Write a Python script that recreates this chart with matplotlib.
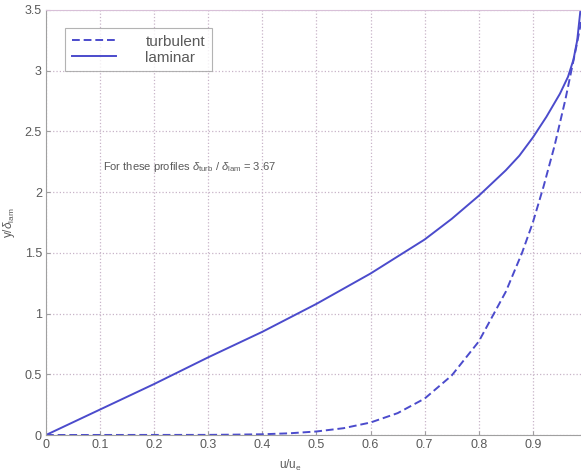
import numpy as np
import matplotlib.pyplot as plt

plt.rcParams['font.family'] = ['Liberation Sans', 'DejaVu Sans']
plt.rcParams['mathtext.fontset'] = 'custom'
plt.rcParams['mathtext.rm'] = 'Liberation Sans'
plt.rcParams['mathtext.it'] = 'Liberation Sans:italic'

# values
u_lam = [0.0, 0.1, 0.2, 0.3, 0.4, 0.5, 0.6, 0.7, 0.75, 0.8, 0.85, 0.875,
         0.9, 0.925, 0.95, 0.965, 0.975, 0.982, 0.988]
y_lam = [0.0, 0.21, 0.42, 0.64, 0.85, 1.08, 1.33, 1.61, 1.78, 1.97, 2.18, 2.30,
         2.45, 2.62, 2.81, 2.95, 3.09, 3.25, 3.5]

u_turb = [0.0, 0.3, 0.35, 0.4, 0.45, 0.5, 0.55, 0.6, 0.65, 0.7, 0.75, 0.8,
          0.85, 0.88, 0.9, 0.92, 0.94, 0.96, 0.98, 0.99]
y_turb = [0.0, 0.001, 0.003, 0.006, 0.014, 0.029, 0.056, 0.103, 0.18, 0.30,
          0.49, 0.77, 1.18, 1.50, 1.75, 2.05, 2.38, 2.76, 3.19, 3.42]

x_ticks = [0, 0.1, 0.2, 0.3, 0.4, 0.5, 0.6, 0.7, 0.8, 0.9]
y_ticks = [0, 0.5, 1, 1.5, 2, 2.5, 3, 3.5]

line_col = '#4b4bcc'
txt_col = '#5a5a5a'

fig = plt.figure(figsize=(5.81, 4.73), dpi=100)
ax = fig.add_axes([46 / 581, 38 / 473, 535 / 581, 425 / 473])

ax.plot(u_turb, y_turb, color=line_col, linestyle='--', linewidth=1.4,
        dashes=(4, 2), label='turbulent')
ax.plot(u_lam, y_lam, color=line_col, linestyle='-', linewidth=1.4,
        label='laminar')

ax.set_xlim(0, 0.989)
ax.set_ylim(0, 3.5)
ax.set_xticks(x_ticks)
ax.set_xticklabels([f'{t:g}' for t in x_ticks])
ax.set_yticks(y_ticks)
ax.set_yticklabels([f'{t:g}' for t in y_ticks])

ax.grid(True, linestyle=':', color='#c8b4c8', linewidth=0.9)
for s in ['left', 'bottom', 'top']:
    ax.spines[s].set_color('#a0a0a0')
ax.spines['top'].set_color('#d8c0d8')
ax.spines['right'].set_visible(False)
ax.tick_params(direction='in', length=3, color='#a0a0a0', labelsize=9,
               labelcolor=txt_col, pad=3)

ax.set_xlabel(r'u/u$_{\rm e}$', fontsize=8.5, color=txt_col, labelpad=2)
ax.xaxis.set_label_coords(0.456, -0.055)
ax.set_ylabel(r'y/$\delta_{\rm lam}$', fontsize=8.5, color=txt_col)
ax.yaxis.set_label_coords(-0.055, 0.5)

ax.text(0.105, 2.21, r'For these profiles $\delta_{\rm turb}$ / $\delta_{\rm lam}$ = 3.67',
        fontsize=8, color=txt_col, va='center')

leg = ax.legend(loc='upper left', bbox_to_anchor=(0.036, 0.958), fontsize=11,
                frameon=True, fancybox=False, handlelength=2.9, handletextpad=1.9,
                borderpad=0.45, labelspacing=0.12, borderaxespad=0)
leg.get_frame().set_edgecolor('#a0a0a0')
leg.get_frame().set_linewidth(0.8)
for t in leg.get_texts():
    t.set_color(txt_col)

fig.savefig('out.png', dpi=100)
